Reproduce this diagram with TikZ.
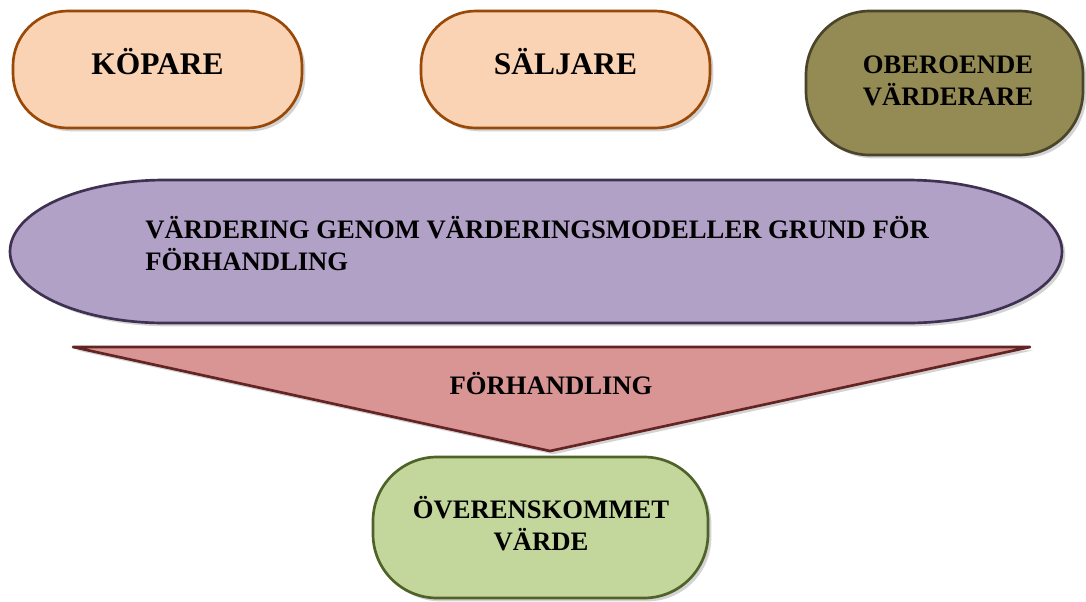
\documentclass[tikz,border=0pt]{standalone}
\usepackage{fontspec}
\setmainfont{Liberation Serif}
\usetikzlibrary{shadows}

\definecolor{peachfill}{HTML}{FAD3B4}
\definecolor{peachline}{HTML}{984807}
\definecolor{olivefill}{HTML}{948A54}
\definecolor{oliveline}{HTML}{4A452A}
\definecolor{lilacfill}{HTML}{B2A1C7}
\definecolor{lilacline}{HTML}{3F3151}
\definecolor{rosefill}{HTML}{D99594}
\definecolor{roseline}{HTML}{632423}
\definecolor{sagefill}{HTML}{C3D69B}
\definecolor{sageline}{HTML}{4F6228}

\begin{document}
\begin{tikzpicture}[x=0.75pt,y=-0.75pt,
    shade box/.style={drop shadow={shadow xshift=2.5pt,shadow yshift=-2.5pt,opacity=.35}},
    pill/.style={shade box,draw,line width=2pt,rounded corners=#1,align=center,inner sep=0pt},
    bigtext/.style={font=\bfseries\fontsize{23.6}{28}\selectfont},
    smalltext/.style={font=\bfseries\fontsize{20}{24}\selectfont}]
  \useasboundingbox (0,0) rectangle (1086,601);

  % parties
  \node[pill=41pt,fill=peachfill,draw=peachline,minimum width=216.75pt,minimum height=87.75pt]
    (kopare) at (157.5,69.5) {};
  \node[bigtext] (kopare-t) at (157.5,62) {KÖPARE};
  \node[pill=41pt,fill=peachfill,draw=peachline,minimum width=216.75pt,minimum height=87.75pt]
    (saljare) at (565.5,69.5) {};
  \node[bigtext] (saljare-t) at (565.5,62) {SÄLJARE};
  \node[pill=48pt,fill=olivefill,draw=oliveline,minimum width=207.75pt,minimum height=108pt]
    (oberoende) at (944.5,83) {};
  \node[smalltext,align=center] (oberoende-t) at (948,81) {OBEROENDE\\VÄRDERARE};

  % valuation band
  \path[shade box,fill=lilacfill,draw=lilacline,line width=2pt]
    (165,180) -- (907,180) arc(-90:90:155 and 71.5) -- (165,323) arc(90:270:155 and 71.5) -- cycle;
  \node[smalltext,align=left,anchor=west,inner sep=0pt] (vardering) at (145,244)
    {VÄRDERING GENOM VÄRDERINGSMODELLER GRUND FÖR\\FÖRHANDLING};

  % negotiation funnel
  \path[shade box,fill=rosefill,draw=roseline,line width=2pt,line join=round]
    (73,347) -- (1030,347) -- (550,451) -- cycle;
  \node[smalltext] (forhandling) at (551,384) {FÖRHANDLING};

  % result
  \node[pill=48pt,fill=sagefill,draw=sageline,minimum width=251.25pt,minimum height=105.75pt]
    (overens) at (540.5,527.5) {};
  \node[smalltext,align=center] (overens-t) at (541,524) {ÖVERENSKOMMET\\VÄRDE};
\end{tikzpicture}
\end{document}
